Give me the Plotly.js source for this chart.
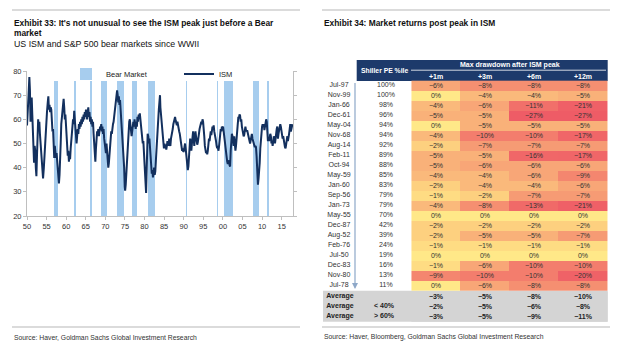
<!DOCTYPE html>
<html>
<head>
<meta charset="utf-8">
<script src="https://cdn.plot.ly/plotly-3.0.1.min.js"></script>
<style>
html,body{margin:0;padding:0;background:#fff;}
#chart{width:620px;height:353px;}
</style>
</head>
<body>
<div id="chart"></div>
<script>
// ---------------- DATA: Exhibit 33 ----------------
const ismYear = [1950.0,1950.2,1950.4,1950.6,1950.75,1950.9,1951.05,1951.2,1951.35,1951.5,1951.65,1951.8,1951.95,1952.1,1952.25,1952.4,1952.55,1952.7,1952.85,1953.0,1953.15,1953.3,1953.5,1953.7,1953.9,1954.1,1954.3,1954.5,1954.7,1954.9,1955.1,1955.3,1955.45,1955.6,1955.75,1955.9,1956.05,1956.2,1956.35,1956.5,1956.65,1956.8,1956.95,1957.1,1957.25,1957.4,1957.55,1957.7,1957.85,1958.0,1958.15,1958.3,1958.45,1958.6,1958.75,1958.9,1959.05,1959.2,1959.35,1959.5,1959.65,1959.8,1959.95,1960.1,1960.25,1960.4,1960.55,1960.7,1960.85,1961.0,1961.15,1961.3,1961.45,1961.6,1961.75,1961.9,1962.05,1962.2,1962.35,1962.5,1962.65,1962.8,1962.95,1963.1,1963.25,1963.4,1963.55,1963.7,1963.85,1964.0,1964.15,1964.3,1964.45,1964.6,1964.75,1964.9,1965.05,1965.2,1965.35,1965.5,1965.65,1965.8,1965.95,1966.1,1966.25,1966.4,1966.55,1966.7,1966.85,1967.0,1967.15,1967.3,1967.45,1967.6,1967.75,1967.9,1968.05,1968.2,1968.35,1968.5,1968.65,1968.8,1968.95,1969.1,1969.25,1969.4,1969.55,1969.7,1969.85,1970.0,1970.15,1970.3,1970.45,1970.6,1970.75,1970.9,1971.05,1971.2,1971.35,1971.5,1971.65,1971.8,1971.95,1972.1,1972.25,1972.4,1972.55,1972.7,1972.85,1973.0,1973.15,1973.3,1973.45,1973.6,1973.75,1973.9,1974.05,1974.2,1974.35,1974.5,1974.65,1974.8,1974.95,1975.05,1975.2,1975.35,1975.5,1975.65,1975.8,1975.95,1976.1,1976.25,1976.4,1976.55,1976.7,1976.85,1977.0,1977.15,1977.3,1977.45,1977.6,1977.75,1977.9,1978.05,1978.2,1978.35,1978.5,1978.65,1978.8,1978.95,1979.1,1979.25,1979.4,1979.55,1979.7,1979.85,1980.0,1980.15,1980.3,1980.4,1980.5,1980.65,1980.8,1980.95,1981.1,1981.25,1981.4,1981.55,1981.7,1981.85,1982.0,1982.15,1982.3,1982.45,1982.6,1982.75,1982.9,1983.05,1983.2,1983.35,1983.5,1983.65,1983.8,1983.95,1984.05,1984.2,1984.35,1984.5,1984.65,1984.8,1984.95,1985.1,1985.25,1985.4,1985.55,1985.7,1985.85,1986.0,1986.15,1986.3,1986.45,1986.6,1986.75,1986.9,1987.05,1987.2,1987.35,1987.5,1987.65,1987.8,1987.95,1988.1,1988.25,1988.4,1988.55,1988.7,1988.85,1989.0,1989.15,1989.3,1989.45,1989.6,1989.75,1989.9,1990.05,1990.2,1990.35,1990.5,1990.65,1990.8,1990.95,1991.05,1991.2,1991.35,1991.5,1991.65,1991.8,1991.95,1992.1,1992.25,1992.4,1992.55,1992.7,1992.85,1993.0,1993.15,1993.3,1993.45,1993.6,1993.75,1993.9,1994.05,1994.2,1994.35,1994.5,1994.65,1994.8,1994.95,1995.1,1995.25,1995.4,1995.55,1995.7,1995.85,1996.0,1996.15,1996.3,1996.45,1996.6,1996.75,1996.9,1997.05,1997.2,1997.35,1997.5,1997.65,1997.8,1997.95,1998.1,1998.25,1998.4,1998.55,1998.7,1998.85,1999.0,1999.15,1999.3,1999.45,1999.6,1999.75,1999.9,2000.05,2000.2,2000.35,2000.5,2000.65,2000.8,2000.95,2001.1,2001.25,2001.4,2001.55,2001.7,2001.85,2002.0,2002.15,2002.3,2002.45,2002.6,2002.75,2002.9,2003.05,2003.2,2003.35,2003.5,2003.65,2003.8,2003.95,2004.1,2004.25,2004.4,2004.55,2004.7,2004.85,2005.0,2005.15,2005.3,2005.45,2005.6,2005.75,2005.9,2006.05,2006.2,2006.35,2006.5,2006.65,2006.8,2006.95,2007.1,2007.25,2007.4,2007.55,2007.7,2007.85,2008.0,2008.15,2008.3,2008.45,2008.6,2008.75,2008.85,2008.95,2009.1,2009.25,2009.4,2009.55,2009.7,2009.85,2010.0,2010.15,2010.3,2010.45,2010.6,2010.75,2010.9,2011.05,2011.2,2011.35,2011.5,2011.65,2011.8,2011.95,2012.1,2012.25,2012.4,2012.55,2012.7,2012.85,2013.0,2013.15,2013.3,2013.45,2013.6,2013.75,2013.9,2014.05,2014.2,2014.35,2014.5,2014.65,2014.8,2014.95,2015.1,2015.25,2015.4,2015.55,2015.7,2015.85,2016.0,2016.15,2016.3,2016.45,2016.6,2016.75,2016.9,2017.05,2017.2,2017.35,2017.5,2017.65,2017.75];
const ismValue = [57.5,62,70,77.5,72,59,64,69,62,52,44,42,49,47,40,36.5,45,58,60,56,59,54,49,43,38,35.5,40,47,52,58,63,67,69.5,64,66,63,65,64,58,55,56,50,44,49,46,44,46,43,38,35,33.5,37,41,50,58,61,64,67,68.5,65,60,62,56,52,49,45,47,42.5,45,43.5,48,52,57,58,60,58,63.5,60,56,52,50,53,56,54,58,56,59,57,60,58,61,59,62,60,63,61,64,62,60,63,65,61,63,59,61,58,60,57,59,54,50,45,42.5,48,53,55,54,56,53,55,57,56,58,55,57,54,56,52,50,48,46,50,47,44,40,42,45,50,53,55,54,57,58,59,61,62,64,66,69,72,70,67,69.5,66,68,64,60,58,55,52,47,40,32,30.5,33,37,44,50,54,56,59,60,57,55,53,55,58,59,57,60,58,56,59,57,61,59,62,61,62.5,60,59,57,53,50,51,47,44,40,32,29.5,36,47,54,53,50,52,47,44,40,37.5,39,36,37.5,40,37,38.5,43,48,54,58,62,64,67,70,65,62,60,56,53,50,48,50,48,49.5,47.5,49,51,50.5,49,52,50,49,52,53,54,56,58,59,60,61,59.5,58,57.5,59,57,56,55,54,52,50,49,47,48,46.5,47,49.5,50,48,45,43,40.5,39,40.5,44,48,52,50,47,50,54,55,52,49,52,55,53,51,49.5,50.5,53,55,56,57,58,59,58,60,59,57,53,49,47,46,46.5,45.5,47,49,52,51,53,55,53.5,56,57,56,57.5,55,54,52.5,51,49,48,49,47,48.5,52,53.5,56,55,57,56,57,55,52.5,50,49,47,44,42.5,41.5,42,43,41,40.5,47,52,54,53,50,49,53,51,47,49,52,54,57,61,60.5,62,61.5,59,60,57,56,55,53,53.5,56,57,55.5,55,55.5,54,53.5,52.5,51,50,51.5,53,54,52,51,50,49,48.5,49,48.5,45,39,35,33,35.5,38,42,48,52,54,57,58,57,58,55.5,57,58,60,59,55,51,52,51,53,54,53,50,51,49,51,53,52,50,52,55,56,57,52,54,55,56,58,57,55,53,52,53,51,50,48.5,48,50,51,53,51,52,54,56,58,55,57,58,58];
const bearStart = [1956.8,1962.0,1966.1,1969.0,1973.1,1976.8,1980.9,1987.7,1990.5,1998.5,2000.3,2007.8,2011.3];
const bearEnd   = [1957.8,1962.5,1966.7,1970.4,1974.8,1978.1,1982.6,1987.9,1990.8,1998.7,2002.7,2009.1,2011.7];
const xTickVals = [1950,1955,1960,1965,1970,1975,1980,1985,1990,1995,2000,2005,2010,2015];
const xTickText = ["50","55","60","65","70","75","80","85","90","95","00","05","10","15"];

// ---------------- DATA: Exhibit 34 ----------------
const peakDates = ["Jul-97","Nov-99","Jan-66","Dec-61","May-04","Nov-68","Aug-14","Feb-11","Oct-94","May-59","Jan-60","Sep-56","Jan-73","May-55","Dec-87","Aug-52","Feb-76","Jul-50","Dec-83","Nov-80","Jul-78"];
const shillerPct = ["100%","100%","98%","96%","94%","94%","92%","89%","88%","85%","83%","79%","79%","70%","42%","39%","24%","19%","16%","13%","11%"];
const horizons = ["+1m","+3m","+6m","+12m"];
const dd1m  = [-6,0,-4,-5,0,-4,-2,-5,-5,-4,-2,-1,-4,0,-2,-2,-1,0,-1,-9,0];
const dd3m  = [-8,-4,-6,-5,-5,-10,-7,-5,-6,-4,-4,-2,-8,0,-2,-5,-1,0,-6,-10,-6];
const dd6m  = [-8,-4,-11,-27,-5,-10,-7,-16,-6,-6,-4,-7,-13,0,-2,-5,-1,0,-10,-10,-8];
const dd12m = [-8,-5,-21,-27,-5,-17,-7,-17,-6,-9,-6,-7,-21,0,-2,-7,-1,0,-10,-20,-8];
const avgLabels = ["Average","Average","Average"];
const avgGroups = ["","< 40%","> 60%"];
const avg1m  = [-3,-2,-3];
const avg3m  = [-5,-5,-5];
const avg6m  = [-8,-6,-9];
const avg12m = [-10,-8,-11];

// ---------------- helpers ----------------
const W = 620, H = 353;
const px = v => v / W;
const py = v => 1 - v / H;
const sans = '"Liberation Sans",Arial,sans-serif';

// table x axis: column index -> pixel (center of +1m col at 436px, 49.05px per column)
const c0 = 436, cw = 49.05;
const tx = p => (p - c0) / cw;
// table y axis: row index -> pixel (row 0 center at 85.7px, 10px per row)
const r0 = 85.7, rh = 10;
const ty = p => (p - r0) / rh;

// ---------------- traces ----------------
const bearMid = bearStart.map((s, i) => (s + bearEnd[i]) / 2);
const bearWidth = bearStart.map((s, i) => bearEnd[i] - s);

const traces = [];
traces.push({
  type: 'bar', name: 'Bear Market', x: bearMid, width: bearWidth,
  y: bearMid.map(() => 56), base: 20,
  marker: {color: '#A7CDEE', line: {width: 0}},
  hoverinfo: 'skip', xaxis: 'x', yaxis: 'y'
});
traces.push({
  type: 'scatter', mode: 'lines', name: 'ISM', x: ismYear, y: ismValue,
  line: {color: '#13305E', width: 2},
  hoverinfo: 'skip', xaxis: 'x', yaxis: 'y'
});

const tfont = {family: sans, size: 7, color: '#333'};
const tfontB = {family: sans, size: 7, color: '#222', weight: 'bold'};

// heatmap of drawdowns
const zMain = peakDates.map((d, i) => [dd1m[i], dd3m[i], dd6m[i], dd12m[i]]);
const colIdx = horizons.map((h, i) => i);
const rowIdx = peakDates.map((d, i) => i);
traces.push({
  type: 'heatmap', x: colIdx, y: rowIdx, z: zMain, zmin: -27, zmax: 0,
  colorscale: [
    [0, '#EE5C66'], [0.222, '#EF6067'], [0.37, '#F06668'], [0.52, '#F06A68'],
    [0.593, '#F1706A'], [0.63, '#F37D6D'], [0.70, '#F58E71'], [0.74, '#F69B74'],
    [0.778, '#F8A677'], [0.815, '#F9B179'], [0.852, '#FAB97B'], [0.926, '#FDD07F'],
    [0.963, '#FEDC83'], [1, '#FFE888']
  ],
  showscale: false, xgap: 0, ygap: 0,
  texttemplate: '%{z}%', textfont: tfont,
  hoverinfo: 'skip', xaxis: 'x2', yaxis: 'y2'
});
// averages
const avgRowPos = avgLabels.map((a, i) => peakDates.length + 0.1 + i);
traces.push({
  type: 'heatmap', x: colIdx, y: avgRowPos,
  z: avgLabels.map((a, i) => [avg1m[i], avg3m[i], avg6m[i], avg12m[i]]),
  colorscale: [[0, '#D4D4D4'], [1, '#D4D4D4']], showscale: false,
  texttemplate: '%{z}%', textfont: tfontB,
  hoverinfo: 'skip', xaxis: 'x2', yaxis: 'y2'
});
// row labels
traces.push({
  type: 'scatter', mode: 'text', x: peakDates.map(() => tx(339)), y: rowIdx, text: peakDates,
  textfont: tfont, hoverinfo: 'skip', showlegend: false, xaxis: 'x2', yaxis: 'y2'
});
traces.push({
  type: 'scatter', mode: 'text', x: shillerPct.map(() => tx(386)), y: rowIdx, text: shillerPct,
  textfont: tfont, hoverinfo: 'skip', showlegend: false, xaxis: 'x2', yaxis: 'y2'
});
traces.push({
  type: 'scatter', mode: 'text', x: avgLabels.map(() => tx(340)), y: avgRowPos, text: avgLabels,
  textfont: tfontB, hoverinfo: 'skip', showlegend: false, xaxis: 'x2', yaxis: 'y2'
});
traces.push({
  type: 'scatter', mode: 'text', x: avgGroups.map(() => tx(384)), y: avgRowPos, text: avgGroups,
  textfont: tfontB, hoverinfo: 'skip', showlegend: false, xaxis: 'x2', yaxis: 'y2'
});

// ---------------- layout ----------------
const ttl = {family: sans, size: 8.4, color: '#111', weight: 'bold'};
const annotations = [
  {xref: 'paper', yref: 'paper', x: px(12), y: py(23), xanchor: 'left', yanchor: 'middle', showarrow: false,
   text: 'Exhibit 33: It\'s not unusual to see the ISM peak just before a Bear', font: ttl},
  {xref: 'paper', yref: 'paper', x: px(12), y: py(33.5), xanchor: 'left', yanchor: 'middle', showarrow: false,
   text: 'market', font: ttl},
  {xref: 'paper', yref: 'paper', x: px(12), y: py(43.5), xanchor: 'left', yanchor: 'middle', showarrow: false,
   text: 'US ISM and S&P 500 bear markets since WWII', font: {family: sans, size: 8.8, color: '#111'}},
  {xref: 'paper', yref: 'paper', x: px(12), y: py(337), xanchor: 'left', yanchor: 'middle', showarrow: false,
   text: 'Source: Haver, Goldman Sachs Global Investment Research', font: {family: sans, size: 6.8, color: '#333'}},
  {xref: 'paper', yref: 'paper', x: px(322), y: py(23), xanchor: 'left', yanchor: 'middle', showarrow: false,
   text: 'Exhibit 34: Market returns post peak in ISM', font: ttl},
  {xref: 'paper', yref: 'paper', x: px(322), y: py(337), xanchor: 'left', yanchor: 'middle', showarrow: false,
   text: 'Source: Haver, Bloomberg, Goldman Sachs Global Investment Research', font: {family: sans, size: 6.8, color: '#333'}},
  // table header
  {xref: 'x2', yref: 'y2', x: tx(384), y: ty(70.5), showarrow: false, text: 'Shiller PE %ile',
   font: {family: sans, size: 6.8, color: '#fff', weight: 'bold'}},
  {xref: 'x2', yref: 'y2', x: 1.5, y: ty(65), showarrow: false, text: 'Max drawdown after ISM peak',
   font: {family: sans, size: 7, color: '#fff', weight: 'bold'}},
  // arrow down the date column
  {xref: 'x2', yref: 'y2', axref: 'x2', ayref: 'y2', x: tx(355), y: ty(289), ax: tx(355), ay: ty(81.5),
   text: '', showarrow: true, arrowhead: 2, arrowsize: 1, arrowwidth: 1.2, arrowcolor: '#8EA8C8'}
];
horizons.forEach((h, i) => annotations.push({
  xref: 'x2', yref: 'y2', x: i, y: ty(76), showarrow: false, text: h,
  font: {family: sans, size: 7, color: '#fff', weight: 'bold'}
}));

const shapes = [
  {type: 'line', xref: 'paper', yref: 'paper', x0: px(12), x1: px(300), y0: py(10), y1: py(10), line: {color: '#CFCFCF', width: 1.5}},
  {type: 'line', xref: 'paper', yref: 'paper', x0: px(12), x1: px(300), y0: py(327), y1: py(327), line: {color: '#CFCFCF', width: 1.5}},
  {type: 'line', xref: 'paper', yref: 'paper', x0: px(322), x1: px(610), y0: py(10), y1: py(10), line: {color: '#CFCFCF', width: 1.5}},
  {type: 'line', xref: 'paper', yref: 'paper', x0: px(322), x1: px(610), y0: py(327), y1: py(327), line: {color: '#CFCFCF', width: 1.5}},
  // header background
  {type: 'rect', xref: 'x2', yref: 'y2', x0: tx(356.7), x1: tx(607.7), y0: ty(60), y1: ty(81), fillcolor: '#1D3A6B', line: {width: 0}, layer: 'below'},
  {type: 'line', xref: 'x2', yref: 'y2', x0: tx(411), x1: tx(606), y0: ty(70.2), y1: ty(70.2), line: {color: '#ffffff', width: 0.8}},
  // averages band
  {type: 'rect', xref: 'x2', yref: 'y2', x0: tx(323), x1: tx(607.7), y0: ty(290.8), y1: ty(321.7), fillcolor: '#D4D4D4', line: {width: 0}, layer: 'below'}
];

const layout = {
  width: W, height: H, margin: {l: 0, r: 0, t: 0, b: 0},
  paper_bgcolor: '#fff', plot_bgcolor: 'rgba(0,0,0,0)',
  font: {family: sans, size: 8, color: '#333'},
  showlegend: true,
  legend: {orientation: 'h', x: px(66), y: py(74), xanchor: 'left', yanchor: 'middle',
    bgcolor: 'rgba(0,0,0,0)', font: {family: sans, size: 7.5, color: '#222'},
    entrywidth: 68, entrywidthmode: 'pixels', itemwidth: 30, tracegroupgap: 0},
  xaxis: {domain: [px(27), px(293)], range: [1950, 2017.9], tickvals: xTickVals, ticktext: xTickText,
    showgrid: false, zeroline: false, showline: true, linecolor: '#BFBFBF', linewidth: 1,
    ticks: 'outside', ticklen: 3, tickcolor: '#BFBFBF', tickfont: {family: sans, size: 7.5, color: '#333'},
    anchor: 'y', fixedrange: true},
  yaxis: {domain: [py(216), py(71)], range: [20, 80], tickvals: [20,30,40,50,60,70,80],
    showgrid: false, zeroline: false, showline: true, linecolor: '#BFBFBF', linewidth: 1, mirror: 'ticks',
    ticks: 'outside', ticklen: 3, tickcolor: '#BFBFBF', tickfont: {family: sans, size: 7.5, color: '#333'},
    anchor: 'x', fixedrange: true},
  xaxis2: {domain: [px(323), px(608)], range: [tx(323), tx(608)], visible: false, anchor: 'y2', fixedrange: true},
  yaxis2: {domain: [py(322), py(60)], range: [ty(322), ty(60)], visible: false, anchor: 'x2', fixedrange: true},
  annotations: annotations, shapes: shapes, bargap: 0
};

Plotly.newPlot('chart', traces, layout, {staticPlot: true, displayModeBar: false});
</script>
</body>
</html>
